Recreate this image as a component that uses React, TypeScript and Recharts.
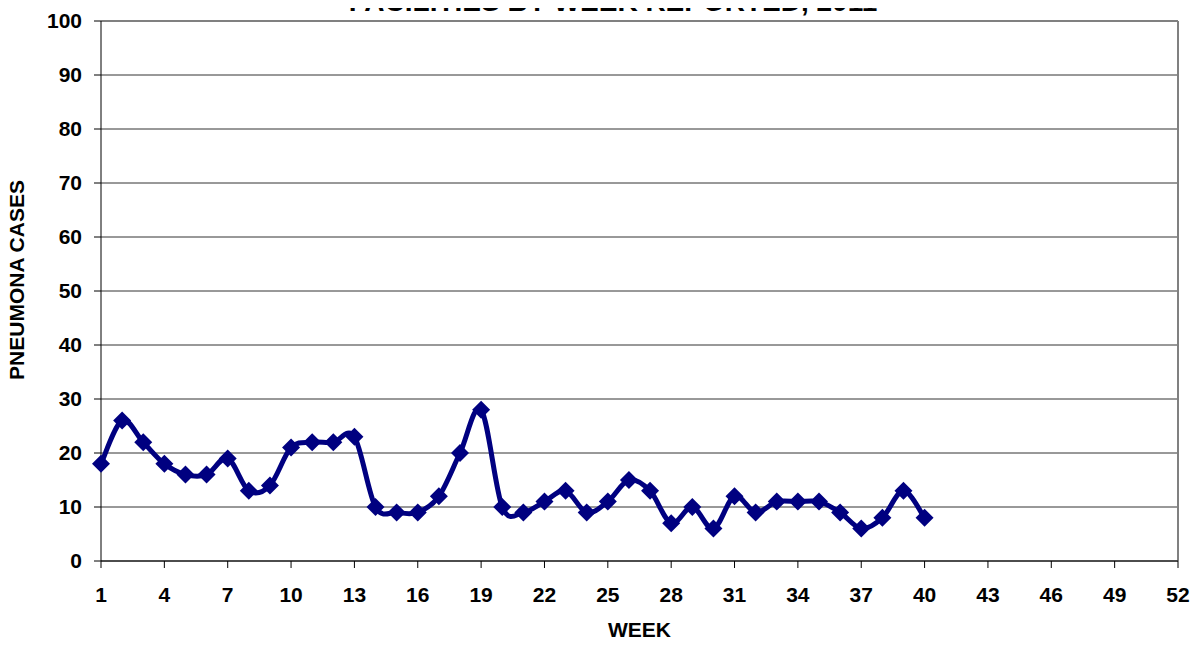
import React from 'react';
import { LineChart, Line, XAxis, YAxis, CartesianGrid, ReferenceLine } from 'recharts';

const weeks = [1,2,3,4,5,6,7,8,9,10,11,12,13,14,15,16,17,18,19,20,21,22,23,24,25,26,27,28,29,30,31,32,33,34,35,36,37,38,39,40];
const cases = [18,26,22,18,16,16,19,13,14,21,22,22,23,10,9,9,12,20,28,10,9,11,13,9,11,15,13,7,10,6,12,9,11,11,11,9,6,8,13,8];
const xTicks = [1,4,7,10,13,16,19,22,25,28,31,34,37,40,43,46,49,52];
const yTicks = [0,10,20,30,40,50,60,70,80,90,100];
const titleText = 'FACILITIES BY WEEK REPORTED, 2011';
const xLabel = 'WEEK';
const yLabel = 'PNEUMONA CASES';

const data = weeks.map((w, i) => ({ week: w, cases: cases[i] }));

const FONT = 'Arial, "Liberation Sans", Helvetica, sans-serif';
const NAVY = '#000080';

// Excel-style smoothing (uniform Catmull-Rom as cubic Bezier)
function excelSmooth(context: any) {
  let pts: number[][] = [];
  return {
    areaStart() {},
    areaEnd() {},
    lineStart() { pts = []; },
    point(x: number, y: number) { pts.push([+x, +y]); },
    lineEnd() {
      if (!pts.length) return;
      context.moveTo(pts[0][0], pts[0][1]);
      for (let i = 0; i < pts.length - 1; i++) {
        const p0 = pts[i - 1] || pts[i];
        const p1 = pts[i];
        const p2 = pts[i + 1];
        const p3 = pts[i + 2] || p2;
        const c1x = p1[0] + (p2[0] - p0[0]) / 6;
        const c1y = p1[1] + (p2[1] - p0[1]) / 6;
        const c2x = p2[0] - (p3[0] - p1[0]) / 6;
        const c2y = p2[1] - (p3[1] - p1[1]) / 6;
        context.bezierCurveTo(c1x, c1y, c2x, c2y, p2[0], p2[1]);
      }
    },
  };
}

const Diamond = (props: any) => {
  const { cx, cy } = props;
  if (cx == null || cy == null) return null;
  const r = 9;
  return (
    <polygon
      points={`${cx},${cy - r} ${cx + r},${cy} ${cx},${cy + r} ${cx - r},${cy}`}
      fill={NAVY}
      stroke="none"
    />
  );
};

const XLabelContent = (props: any) => {
  const vb = props.viewBox || {};
  const cx = (vb.x ?? 101) + (vb.width ?? 1077) / 2;
  return (
    <text x={cx} y={637} textAnchor="middle" fill="#000" fontSize={21} fontWeight="bold" fontFamily={FONT}>
      {xLabel}
    </text>
  );
};

const YLabelContent = () => {
  const cx = 24;
  const cy = 280;
  return (
    <text
      x={cx}
      y={cy}
      textAnchor="middle"
      transform={`rotate(-90, ${cx}, ${cy})`}
      fill="#000"
      fontSize={21}
      fontWeight="bold"
      fontFamily={FONT}
    >
      {yLabel}
    </text>
  );
};

export default function App() {
  return (
    <div style={{ margin: -8, width: 1198, height: 645, position: 'relative', overflow: 'hidden', background: '#fff' }}>
      <LineChart
        width={1198}
        height={645}
        data={data}
        margin={{ top: 21, right: 20, left: 0, bottom: 0 }}
      >
        <CartesianGrid horizontal={true} vertical={false} stroke="#333333" strokeWidth={1} />
        <ReferenceLine y={100} stroke="#808080" strokeWidth={2} />
        <ReferenceLine x={52} stroke="#808080" strokeWidth={2} />
        <XAxis
          dataKey="week"
          type="number"
          domain={[1, 52]}
          ticks={xTicks}
          interval={0}
          height={84}
          stroke="#000"
          tickSize={7}
          tickMargin={19}
          tick={{ fill: '#000', fontSize: 21, fontWeight: 'bold', fontFamily: FONT }}
          tickLine={{ stroke: '#000' }}
          axisLine={{ stroke: '#000' }}
          label={<XLabelContent />}
        />
        <YAxis
          type="number"
          domain={[0, 100]}
          ticks={yTicks}
          interval={0}
          width={101}
          stroke="#000"
          tickSize={7}
          tickMargin={12}
          tick={{ fill: '#000', fontSize: 21, fontWeight: 'bold', fontFamily: FONT }}
          tickLine={{ stroke: '#000' }}
          axisLine={{ stroke: '#000' }}
          label={<YLabelContent />}
        />
        <Line
          dataKey="cases"
          type={excelSmooth as any}
          stroke={NAVY}
          strokeWidth={5}
          dot={<Diamond />}
          activeDot={false}
          isAnimationActive={false}
        />
      </LineChart>
      <div
        style={{
          position: 'absolute',
          left: 0,
          width: 1226,
          top: -14,
          textAlign: 'center',
          fontFamily: FONT,
          fontWeight: 'bold',
          fontSize: 28,
          lineHeight: '32px',
          color: '#000',
          whiteSpace: 'nowrap',
          pointerEvents: 'none',
        }}
      >
        {titleText}
      </div>
    </div>
  );
}
